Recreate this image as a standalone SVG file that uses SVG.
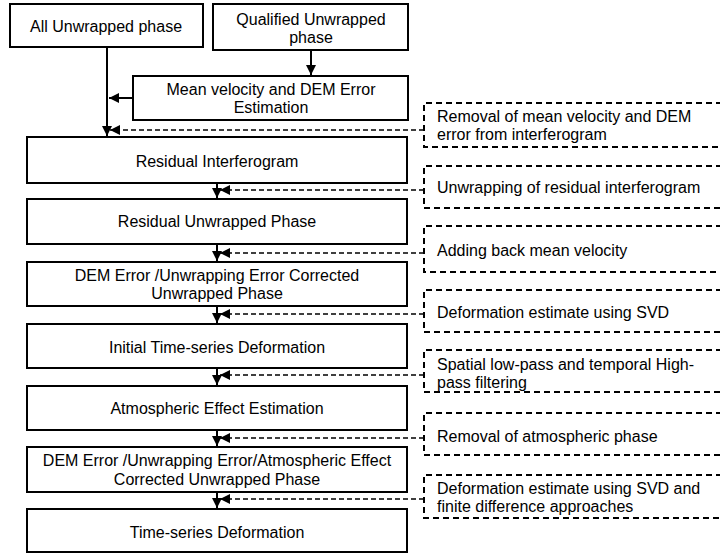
<svg xmlns="http://www.w3.org/2000/svg" width="720" height="555" viewBox="0 0 720 555">
<defs>
<marker id="ah" markerUnits="userSpaceOnUse" markerWidth="10" markerHeight="10" refX="10" refY="5" orient="auto">
<path d="M0,0 L10,5 L0,10 z" fill="#000"/>
</marker>
<style>
.box{fill:#fff;stroke:#000;stroke-width:2}
.dbox{fill:none;stroke:#000;stroke-width:2;stroke-dasharray:6,4}
.t{font-family:"Liberation Sans",Arial,sans-serif;font-size:16px;fill:#000}
.c{text-anchor:middle}
.ln{stroke:#000;stroke-width:2;fill:none}
.dl{stroke:#000;stroke-width:1.5;fill:none;stroke-dasharray:5,3}
</style>
</defs>
<g id="connectors">
<path class="ln" d="M107,47 V136" marker-end="url(#ah)"/>
<path class="ln" d="M311,50 V75" marker-end="url(#ah)"/>
<path class="ln" d="M133,98 H109" marker-end="url(#ah)"/>
<path class="dl" d="M424,130 H110" marker-end="url(#ah)"/>
<path class="ln" d="M217,183 V198" marker-end="url(#ah)"/>
<path class="ln" d="M217,244 V261" marker-end="url(#ah)"/>
<path class="ln" d="M217,306 V323" marker-end="url(#ah)"/>
<path class="ln" d="M217,368 V385" marker-end="url(#ah)"/>
<path class="ln" d="M217,430 V446" marker-end="url(#ah)"/>
<path class="ln" d="M217,492 V508" marker-end="url(#ah)"/>
<path class="dl" d="M424,190 H220" marker-end="url(#ah)"/>
<path class="dl" d="M424,253 H220" marker-end="url(#ah)"/>
<path class="dl" d="M424,314 H220" marker-end="url(#ah)"/>
<path class="dl" d="M424,375 H220" marker-end="url(#ah)"/>
<path class="dl" d="M424,438 H220" marker-end="url(#ah)"/>
<path class="dl" d="M424,499 H220" marker-end="url(#ah)"/>
</g>
<g id="all-unwrapped"><rect class="box" x="10" y="4" width="193" height="43"/><text class="t c" x="106" y="32">All Unwrapped phase</text></g>
<g id="qualified-unwrapped"><rect class="box" x="213" y="4" width="195" height="46"/><text class="t c" x="311" y="25">Qualified Unwrapped</text><text class="t c" x="311" y="43">phase</text></g>
<g id="mean-velocity"><rect class="box" x="133" y="76" width="275" height="44"/><text class="t c" x="271" y="95">Mean velocity and DEM Error</text><text class="t c" x="271" y="113">Estimation</text></g>
<g id="residual-interferogram"><rect class="box" x="27" y="137" width="380" height="46"/><text class="t c" x="217" y="167">Residual Interferogram</text></g>
<g id="residual-unwrapped"><rect class="box" x="27" y="199" width="380" height="45"/><text class="t c" x="217" y="227">Residual Unwrapped Phase</text></g>
<g id="dem-corrected"><rect class="box" x="27" y="262" width="380" height="44"/><text class="t c" x="217" y="281">DEM Error /Unwrapping Error Corrected</text><text class="t c" x="217" y="299">Unwrapped Phase</text></g>
<g id="initial-deformation"><rect class="box" x="27" y="324" width="380" height="44"/><text class="t c" x="217" y="353">Initial Time-series Deformation</text></g>
<g id="atmospheric-estimation"><rect class="box" x="27" y="386" width="380" height="44"/><text class="t c" x="217" y="414">Atmospheric Effect Estimation</text></g>
<g id="dem-atm-corrected"><rect class="box" x="27" y="447" width="380" height="45"/><text class="t c" x="217" y="466">DEM Error /Unwrapping Error/Atmospheric Effect</text><text class="t c" x="217" y="485">Corrected Unwrapped Phase</text></g>
<g id="time-series-deformation"><rect class="box" x="27" y="509" width="380" height="43"/><text class="t c" x="217" y="538">Time-series Deformation</text></g>
<g id="step-removal"><path class="dbox" d="M722,103 H424 V147 H722"/><text class="t" x="437" y="122">Removal of mean velocity and DEM</text><text class="t" x="437" y="140">error from interferogram</text></g>
<g id="step-unwrapping"><path class="dbox" d="M722,166 H424 V208 H722"/><text class="t" x="437" y="193">Unwrapping of residual interferogram</text></g>
<g id="step-adding"><path class="dbox" d="M722,226 H424 V272 H722"/><text class="t" x="437" y="256">Adding back mean velocity</text></g>
<g id="step-svd"><path class="dbox" d="M722,290 H424 V332 H722"/><text class="t" x="437" y="318">Deformation estimate using SVD</text></g>
<g id="step-filtering"><path class="dbox" d="M722,350 H424 V392 H722"/><text class="t" x="437" y="370">Spatial low-pass and temporal High-</text><text class="t" x="437" y="388">pass filtering</text></g>
<g id="step-atm-removal"><path class="dbox" d="M722,413 H424 V455 H722"/><text class="t" x="437" y="442">Removal of atmospheric phase</text></g>
<g id="step-svd-fd"><path class="dbox" d="M722,475 H424 V518 H722"/><text class="t" x="437" y="494">Deformation estimate using SVD and</text><text class="t" x="437" y="512">finite difference approaches</text></g>
</svg>
